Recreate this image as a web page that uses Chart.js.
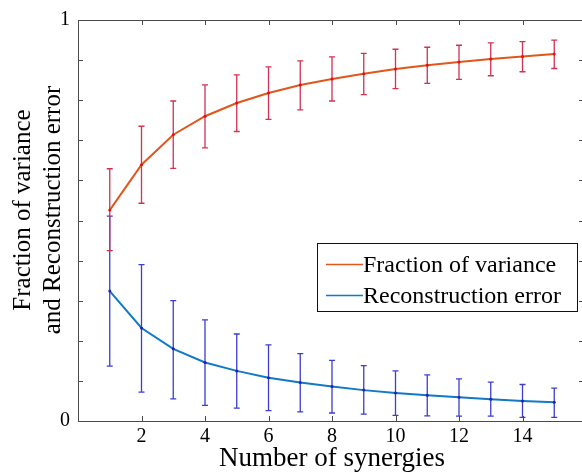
<!DOCTYPE html>
<html lang="en">
<head>
    <meta charset="UTF-8">
    <title>Fraction of variance and reconstruction error</title>
    <script src="https://cdn.jsdelivr.net/npm/chart.js"></script>
    <style>
        html, body { margin: 0; padding: 0; overflow: hidden; background: #fff; }
    </style>
</head>
<body>
<!-- a bit wider than the window: the right edge of the axes box falls outside the picture -->
<canvas id="synChart" width="590" height="474"></canvas>

<script>
    // number of synergies
    const synergies = [1, 2, 3, 4, 5, 6, 7, 8, 9, 10, 11, 12, 13, 14, 15];

    // fraction of variance (mean, lower and upper end of error bar)
    const fracMean = [0.526, 0.639, 0.714, 0.760, 0.793, 0.818, 0.838, 0.853, 0.866, 0.878, 0.887, 0.895, 0.903, 0.909, 0.915];
    const fracLow  = [0.425, 0.543, 0.630, 0.681, 0.722, 0.752, 0.776, 0.798, 0.814, 0.829, 0.842, 0.852, 0.861, 0.871, 0.879];
    const fracHigh = [0.629, 0.735, 0.798, 0.838, 0.863, 0.883, 0.898, 0.908, 0.917, 0.927, 0.932, 0.937, 0.943, 0.946, 0.950];

    // reconstruction error
    const errMean = [0.324, 0.232, 0.180, 0.146, 0.125, 0.108, 0.096, 0.086, 0.077, 0.070, 0.064, 0.059, 0.054, 0.050, 0.047];
    const errLow  = [0.137, 0.072, 0.055, 0.039, 0.032, 0.026, 0.023, 0.020, 0.017, 0.014, 0.013, 0.012, 0.012, 0.009, 0.009];
    const errHigh = [0.511, 0.390, 0.300, 0.252, 0.217, 0.190, 0.168, 0.151, 0.138, 0.125, 0.115, 0.105, 0.097, 0.091, 0.082];

    const xTickLabels = ['2', '4', '6', '8', '10', '12', '14'];
    const yTickLabels = ['0', '1'];
    const yTitle = ['Fraction of variance', 'and Reconstruction error'];

    const serif = "'Liberation Serif', 'Times New Roman', serif";
    const axisColor = '#4a4a4a';

    const toPoints = (ys) => synergies.map((x, i) => ({x: x, y: ys[i]}));

    // error bars, inward ticks, box, y title and legend
    const extras = {
        id: 'extras',
        beforeDatasetsDraw(chart) {
            const ctx = chart.ctx;
            const xs = chart.scales.x, ys = chart.scales.y;
            // blue first so the red bar sits on top where they overlap
            const bars = [
                {low: errLow, high: errHigh, color: '#3c3ccf'},
                {low: fracLow, high: fracHigh, color: '#d33152'}
            ];
            ctx.save();
            ctx.lineWidth = 1.3;
            bars.forEach(b => {
                ctx.strokeStyle = b.color;
                synergies.forEach((x, i) => {
                    const px = xs.getPixelForValue(x);
                    const y1 = ys.getPixelForValue(b.low[i]);
                    const y2 = ys.getPixelForValue(b.high[i]);
                    ctx.beginPath();
                    ctx.moveTo(px, y1); ctx.lineTo(px, y2);
                    ctx.moveTo(px - 3, y1); ctx.lineTo(px + 3, y1);
                    ctx.moveTo(px - 3, y2); ctx.lineTo(px + 3, y2);
                    ctx.stroke();
                });
            });
            ctx.restore();
        },
        afterDraw(chart) {
            const ctx = chart.ctx;
            const a = chart.chartArea;
            const xs = chart.scales.x, ys = chart.scales.y;
            ctx.save();
            ctx.strokeStyle = axisColor;
            ctx.lineWidth = 1;
            ctx.strokeRect(a.left + 0.5, a.top + 0.5, a.right - a.left, a.bottom - a.top);
            ctx.beginPath();
            xs.ticks.forEach(t => {
                const px = Math.round(xs.getPixelForValue(t.value)) + 0.5;
                ctx.moveTo(px, a.bottom); ctx.lineTo(px, a.bottom - 5);
                ctx.moveTo(px, a.top); ctx.lineTo(px, a.top + 5);
            });
            ys.ticks.forEach(t => {
                const py = Math.round(ys.getPixelForValue(t.value)) + 0.5;
                ctx.moveTo(a.left, py); ctx.lineTo(a.left + 5, py);
                ctx.moveTo(a.right, py); ctx.lineTo(a.right - 7, py);
            });
            ctx.stroke();

            // y axis title, two lines
            ctx.save();
            ctx.translate(23, 210);
            ctx.rotate(-Math.PI / 2);
            ctx.font = '25px ' + serif;
            ctx.fillStyle = '#000';
            ctx.textAlign = 'center';
            ctx.textBaseline = 'middle';
            yTitle.forEach((line, i) => ctx.fillText(line, 0, i * 30));
            ctx.restore();

            // legend
            const lx = 317.5, ly = 243.5, lw = 260, lh = 68;
            ctx.fillStyle = '#fff';
            ctx.fillRect(lx, ly, lw, lh);
            ctx.strokeStyle = '#111';
            ctx.strokeRect(lx, ly, lw, lh);
            ctx.font = '24px ' + serif;
            ctx.textBaseline = 'middle';
            ctx.textAlign = 'left';
            chart.data.datasets.forEach((ds, i) => {
                const cy = ly + 21 + i * 31;
                ctx.strokeStyle = ds.borderColor;
                ctx.lineWidth = 1.5;
                ctx.beginPath();
                ctx.moveTo(326, cy); ctx.lineTo(363, cy);
                ctx.stroke();
                ctx.fillStyle = '#000';
                ctx.fillText(ds.label, 363, cy + 1);
            });
            ctx.restore();
        }
    };

    const ctx = document.getElementById('synChart').getContext('2d');
    new Chart(ctx, {
        type: 'line',
        data: {
            datasets: [{
                label: 'Fraction of variance',
                data: toPoints(fracMean),
                borderColor: '#e0561c',
                borderWidth: 2,
                pointRadius: 1.5,
                pointBackgroundColor: '#e01010',
                pointBorderWidth: 0,
                fill: false,
                tension: 0
            }, {
                label: 'Reconstruction error',
                data: toPoints(errMean),
                borderColor: '#1279c4',
                borderWidth: 2,
                pointRadius: 1.5,
                pointBackgroundColor: '#2020b0',
                pointBorderWidth: 0,
                fill: false,
                tension: 0
            }]
        },
        options: {
            responsive: false,
            animation: false,
            devicePixelRatio: 1,
            layout: { padding: { top: 17, right: 0, left: 0, bottom: 0 } },
            plugins: { legend: { display: false }, tooltip: { enabled: false } },
            scales: {
                x: {
                    type: 'linear',
                    min: 0,
                    max: 16,
                    afterFit: s => { s.height = 53; },
                    grid: { display: false, drawTicks: false },
                    border: { display: false },
                    ticks: {
                        stepSize: 2,
                        padding: 4,
                        color: '#000',
                        font: { family: serif, size: 20 },
                        callback: v => xTickLabels.includes(String(v)) ? String(v) : ''
                    },
                    title: {
                        display: true,
                        text: 'Number of synergies',
                        color: '#000',
                        font: { family: serif, size: 27, lineHeight: 1.1 },
                        padding: { top: 0, bottom: 0 }
                    }
                },
                y: {
                    min: 0,
                    max: 1,
                    afterFit: s => { s.width = 78; },
                    grid: { display: false, drawTicks: false },
                    border: { display: false },
                    ticks: {
                        stepSize: 0.1,
                        padding: 8,
                        color: '#000',
                        font: { family: serif, size: 20 },
                        autoSkip: false,
                        callback: v => {
                            const r = Math.round(v * 10) / 10;
                            return yTickLabels.includes(String(r)) ? String(r) : '';
                        }
                    }
                }
            }
        },
        plugins: [extras]
    });
</script>
</body>
</html>
